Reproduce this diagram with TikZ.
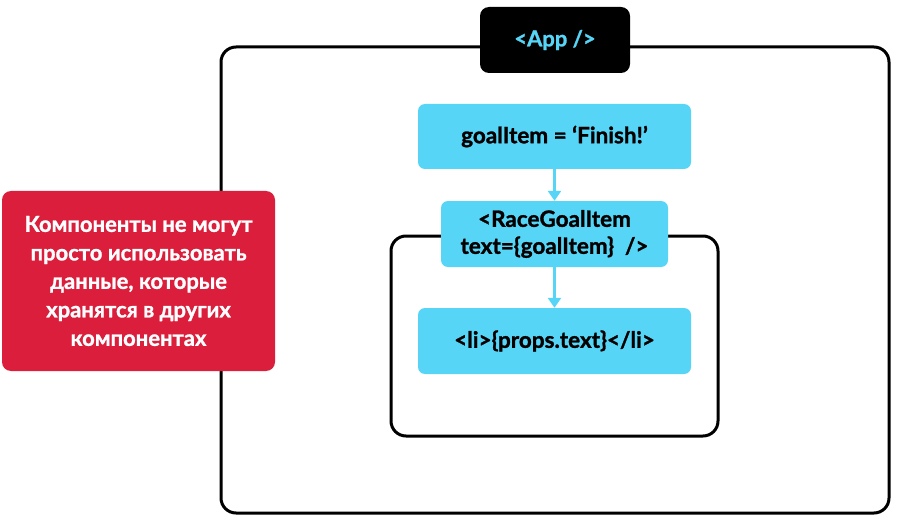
\documentclass[tikz,border=0pt]{standalone}
\usepackage{fontspec}
\setmainfont{Lato}[BoldFeatures={FakeBold=1.2}]
\usetikzlibrary{arrows.meta}
\definecolor{cy}{HTML}{57D5F7}
\definecolor{rd}{HTML}{DB1E3B}
\tikzset{
  frame/.style={draw=black, line width=3pt, rounded corners=15pt},
  cybox/.style={fill=cy, rounded corners=7pt, font=\bfseries\fontsize{22.5}{26}\selectfont, text=black, align=center, inner sep=0pt},
  flow/.style={draw=cy, line width=2.5pt, -{Triangle[length=10pt,width=13pt]}}
}
\begin{document}
\begin{tikzpicture}[x=1pt,y=-1pt]
\useasboundingbox (0,0) rectangle (900,524);
\fill[white] (0,0) rectangle (900,524);
\draw[frame] (221,47) rectangle (889,513);
\node[fill=black, rounded corners=9pt, minimum width=150pt, minimum height=66pt, text=cy, font=\bfseries\fontsize{22}{26}\selectfont] (app) at (555,40) {<App />};
\draw[frame] (391,236) rectangle (718,436);
\node[cybox, minimum width=273pt, minimum height=65pt] (goal) at (554.5,136.5) {goalItem = ‘Finish!’};
\node[cybox, minimum width=227pt, minimum height=66pt, font=\bfseries\fontsize{22.5}{27}\selectfont] (race) at (554.5,234) {<RaceGoalItem\\text=\{goalItem\}\ \ />};
\node[cybox, minimum width=273pt, minimum height=66pt] (li) at (554.5,341) {<li>\{props.text\}</li>};
\draw[flow] (goal.south) -- (race.north);
\draw[flow] (race.south) -- (li.north);
\node[fill=rd, rounded corners=9pt, minimum width=273pt, minimum height=180pt, text=white, align=center, font=\bfseries\fontsize{22}{28.5}\selectfont] (note) at (138.5,281) {Компоненты не могут\\просто использовать\\данные, которые\\хранятся в других\\компонентах};
\end{tikzpicture}
\end{document}
